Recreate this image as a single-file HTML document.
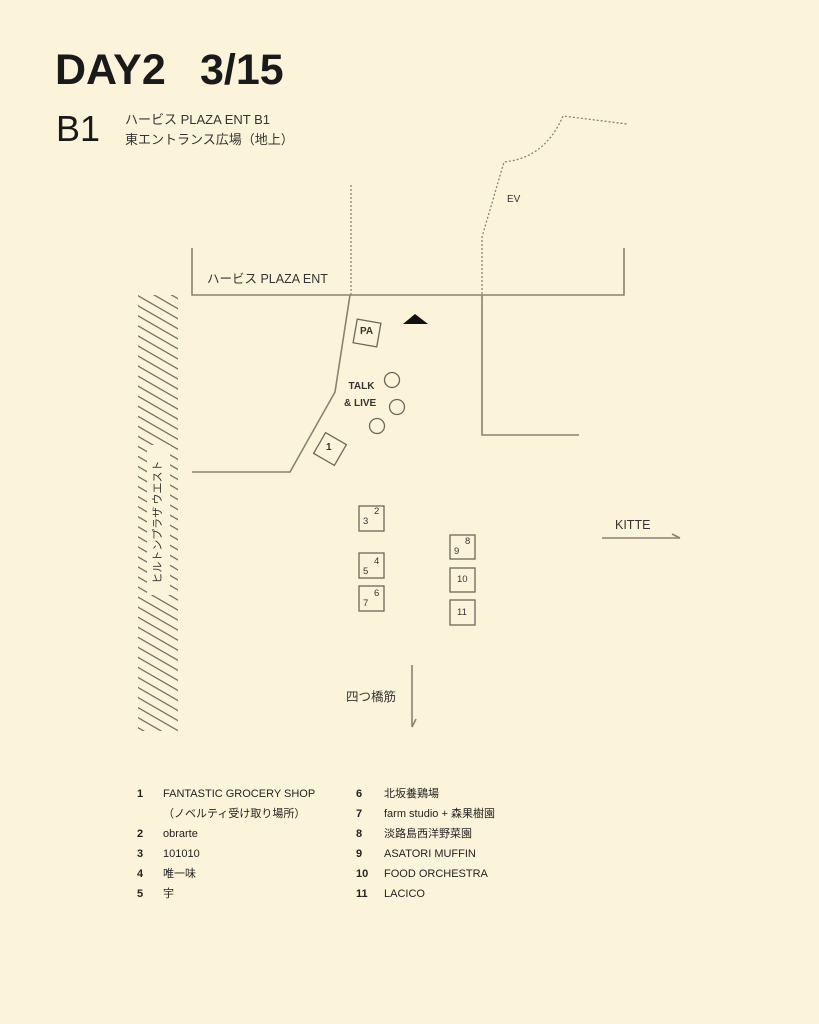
<!DOCTYPE html>
<html><head><meta charset="utf-8"><style>
html,body{margin:0;padding:0;background:#fcf4da;}
body{width:819px;height:1024px;position:relative;overflow:hidden;font-family:"Liberation Sans","Noto Sans CJK JP",sans-serif;color:#1a1a1a;}
.t{position:absolute;white-space:nowrap;}
</style></head><body>
<svg width="819" height="1024" style="position:absolute;left:0;top:0" xmlns="http://www.w3.org/2000/svg">
<defs>
<pattern id="h" patternUnits="userSpaceOnUse" width="20" height="8.7" patternTransform="translate(138,295) rotate(30)">
<line x1="0" y1="0.6" x2="20" y2="0.6" stroke="#6e675a" stroke-width="1.3"/>
</pattern>
</defs>
<rect x="138" y="295" width="40" height="436" fill="url(#h)"/>
<rect x="147" y="445" width="23" height="150" fill="#fcf4da"/>
<g stroke="#8a8272" stroke-width="1.6" fill="none">
<polyline points="192,248 192,295 624,295 624,248"/>
<polyline points="350,295 335,392 290,472 192,472"/>
<polyline points="482,295 482,435 579,435"/>
<line x1="602" y1="538" x2="680" y2="538"/>
<line x1="672" y1="534" x2="680" y2="538"/>
<line x1="412" y1="665" x2="412" y2="727"/>
<line x1="412" y1="727" x2="416" y2="719"/>
</g>
<g stroke="#8a8272" stroke-width="1.3" fill="none" stroke-dasharray="2,2">
<line x1="351" y1="185" x2="351" y2="295"/>
<path d="M482,298 L482,237 L504,162 Q545,158 563,116 L627,124"/>
</g>
<g stroke="#6e675a" stroke-width="1.3" fill="none">
<rect x="355" y="321" width="24" height="24" transform="rotate(10 367 333)"/>
<rect x="318" y="437" width="24" height="24" transform="rotate(30 330 449)"/>
<circle cx="392" cy="380" r="7.5"/>
<circle cx="397" cy="407" r="7.5"/>
<circle cx="377" cy="426" r="7.5"/>
<rect x="359" y="506" width="25" height="25"/>
<rect x="359" y="553" width="25" height="25"/>
<rect x="359" y="586" width="25" height="25"/>
<rect x="450" y="535" width="25" height="24"/>
<rect x="450" y="568" width="25" height="24"/>
<rect x="450" y="600" width="25" height="25"/>
</g>
<polygon points="403,324 428,324 415,314" fill="#111"/>
<text x="158" y="522" transform="rotate(-90 158 522)" text-anchor="middle" dominant-baseline="middle" font-size="11" fill="#333" font-family="Noto Sans CJK JP, sans-serif">ヒルトンプラザ ウエスト</text>
</svg>
<div class="t" style="left:55px;top:46px;font-size:43px;font-weight:bold;">DAY2</div>
<div class="t" style="left:200px;top:46px;font-size:43px;font-weight:bold;">3/15</div>
<div class="t" style="left:56px;top:108px;font-size:36px;">B1</div>
<div class="t" style="left:125px;top:110px;font-size:13px;color:#333;line-height:20px;">ハービス PLAZA ENT B1<br>東エントランス広場（地上）</div>
<div class="t" style="left:507px;top:194px;font-size:10px;color:#333;">EV</div>
<div class="t" style="left:207px;top:268px;font-size:12.5px;color:#333;">ハービス PLAZA ENT</div>
<div class="t" style="left:360px;top:326px;font-size:10px;font-weight:bold;color:#333;">PA</div>
<div class="t" style="left:326px;top:442px;font-size:10px;font-weight:bold;color:#333;">1</div>
<div class="t" style="left:344px;top:378px;font-size:10px;font-weight:bold;color:#333;text-align:center;line-height:17px;">&nbsp;TALK<br>&amp; LIVE</div>
<div class="t" style="left:374px;top:506px;font-size:9.5px;color:#333;">2</div>
<div class="t" style="left:363px;top:516px;font-size:9.5px;color:#333;">3</div>
<div class="t" style="left:374px;top:556px;font-size:9.5px;color:#333;">4</div>
<div class="t" style="left:363px;top:566px;font-size:9.5px;color:#333;">5</div>
<div class="t" style="left:374px;top:588px;font-size:9.5px;color:#333;">6</div>
<div class="t" style="left:363px;top:598px;font-size:9.5px;color:#333;">7</div>
<div class="t" style="left:465px;top:536px;font-size:9.5px;color:#333;">8</div>
<div class="t" style="left:454px;top:546px;font-size:9.5px;color:#333;">9</div>
<div class="t" style="left:457px;top:574px;font-size:9.5px;color:#333;">10</div>
<div class="t" style="left:457px;top:607px;font-size:9.5px;color:#333;">11</div>
<div class="t" style="left:615px;top:518px;font-size:12.5px;color:#333;">KITTE</div>
<div class="t" style="left:346px;top:686px;font-size:12.5px;color:#333;">四つ橋筋</div>
<div class="t" style="left:137px;top:784px;font-size:11px;color:#222;line-height:20px;font-weight:bold;">1<br><br>2<br>3<br>4<br>5</div>
<div class="t" style="left:163px;top:784px;font-size:11px;color:#222;line-height:20px;">FANTASTIC GROCERY SHOP<br>（ノベルティ受け取り場所）<br>obrarte<br>101010<br>唯一味<br>宇</div>
<div class="t" style="left:356px;top:784px;font-size:11px;color:#222;line-height:20px;font-weight:bold;">6<br>7<br>8<br>9<br>10<br>11</div>
<div class="t" style="left:384px;top:784px;font-size:11px;color:#222;line-height:20px;">北坂養鶏場<br>farm studio + 森果樹園<br>淡路島西洋野菜園<br>ASATORI MUFFIN<br>FOOD ORCHESTRA<br>LACICO</div>
</body></html>
